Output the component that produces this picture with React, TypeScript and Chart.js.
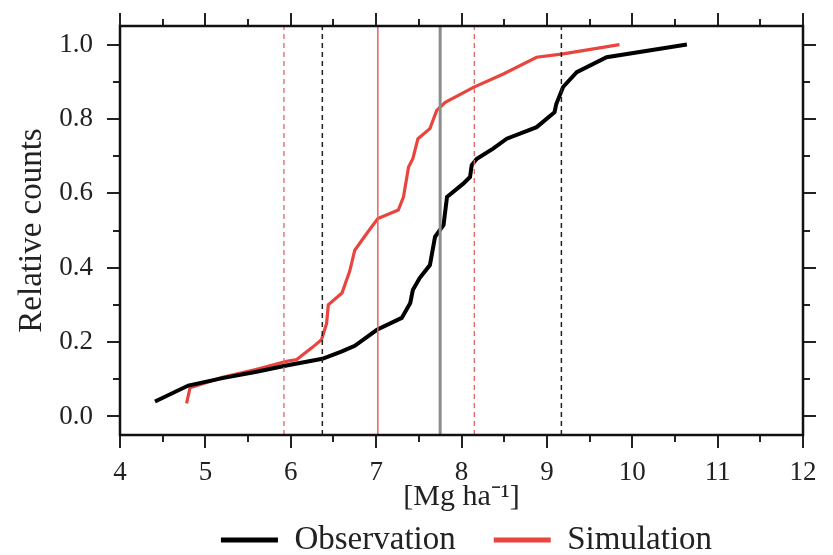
import React, { useEffect, useRef } from 'react';
import { Chart, registerables } from 'chart.js';

Chart.register(...registerables);

// ---- data ----
const obsX = [4.41, 4.8, 5.2, 5.6, 5.95, 6.37, 6.6, 6.75, 7.01, 7.3, 7.4, 7.43, 7.51, 7.63, 7.69, 7.79, 7.83, 8.02, 8.1, 8.12, 8.18, 8.37, 8.53, 8.88, 9.09, 9.11, 9.19, 9.35, 9.7, 10.64];
const obsY = [0.04, 0.083, 0.103, 0.12, 0.137, 0.155, 0.175, 0.19, 0.233, 0.265, 0.305, 0.34, 0.372, 0.407, 0.483, 0.515, 0.59, 0.626, 0.644, 0.676, 0.693, 0.72, 0.747, 0.778, 0.818, 0.84, 0.886, 0.926, 0.966, 1.0];

const simX = [4.78, 4.82, 5.2, 5.6, 5.95, 6.07, 6.25, 6.36, 6.42, 6.44, 6.6, 6.69, 6.75, 6.89, 7.02, 7.26, 7.32, 7.38, 7.43, 7.49, 7.63, 7.71, 7.81, 8.14, 8.49, 8.88, 9.19, 9.85];
const simY = [0.035, 0.077, 0.105, 0.127, 0.148, 0.153, 0.185, 0.206, 0.25, 0.3, 0.332, 0.39, 0.447, 0.492, 0.532, 0.555, 0.59, 0.671, 0.693, 0.747, 0.774, 0.823, 0.845, 0.885, 0.921, 0.966, 0.975, 1.0];

// vertical reference lines (x values)
const simLowerBound = 5.92;
const obsLowerBound = 6.37;
const simMean = 7.02;
const obsMean = 7.75;
const simUpperBound = 8.15;
const obsUpperBound = 9.17;

const seriesNames = ['Observation', 'Simulation'];
const xTickValues = [4, 5, 6, 7, 8, 9, 10, 11, 12];
const xMinorTickValues = [4.5, 5.5, 6.5, 7.5, 8.5, 9.5, 10.5, 11.5];
const yTickValues = [0, 0.2, 0.4, 0.6, 0.8, 1.0];
const yMinorTickValues = [0.1, 0.3, 0.5, 0.7, 0.9];
const xTitle = '[Mg ha\u207B\u00B9]';
const yTitle = 'Relative counts';

const X_MIN = 4;
const X_MAX = 12;
const Y_MIN = -0.05;
const Y_MAX = 1.05;

const FONT = "'Liberation Serif', 'Times New Roman', serif";
const RED = '#e8453f';
const LEGEND_LEFT_OFFSET = 130;

const toPts = (xs: number[], ys: number[]) => xs.map((x, i) => ({ x, y: ys[i] }));
const vline = (x: number) => [{ x, y: Y_MIN }, { x, y: Y_MAX }];

const frameTicks = {
  id: 'frameTicks',
  afterLayout(chart: any) {
    if (chart.legend) {
      chart.legend.left += LEGEND_LEFT_OFFSET;
    }
  },
  afterDatasetsDraw(chart: any) {
    const { ctx, chartArea: a, scales } = chart;
    const xs = scales.x;
    const ys = scales.y;
    const MAJ = 13;
    const MIN = 7;
    ctx.save();
    ctx.strokeStyle = '#222';
    ctx.lineWidth = 2;
    ctx.beginPath();
    const xt = (v: number, len: number) => {
      const p = Math.round(xs.getPixelForValue(v));
      ctx.moveTo(p, a.bottom);
      ctx.lineTo(p, a.bottom + len);
      ctx.moveTo(p, a.top);
      ctx.lineTo(p, a.top - len);
    };
    const yt = (v: number, len: number) => {
      const p = Math.round(ys.getPixelForValue(v));
      ctx.moveTo(a.left, p);
      ctx.lineTo(a.left - len, p);
      ctx.moveTo(a.right, p);
      ctx.lineTo(a.right + len, p);
    };
    xTickValues.forEach((v) => xt(v, MAJ));
    xMinorTickValues.forEach((v) => xt(v, MIN));
    yTickValues.forEach((v) => yt(v, MAJ));
    yMinorTickValues.forEach((v) => yt(v, MIN));
    ctx.stroke();
    ctx.strokeStyle = '#111';
    ctx.lineWidth = 2.5;
    ctx.strokeRect(a.left, a.top, a.right - a.left, a.bottom - a.top);
    ctx.restore();
  },
};

export default function App() {
  const ref = useRef<HTMLCanvasElement | null>(null);

  useEffect(() => {
    if (!ref.current) return;
    const refStyle = (x: number, color: string, width: number, dash: number[]) => ({
      label: 'ref',
      data: vline(x),
      borderColor: color,
      borderWidth: width,
      borderDash: dash,
      showLine: true,
      pointRadius: 0,
      fill: false,
    });
    const chart = new Chart(ref.current, {
      type: 'scatter',
      data: {
        datasets: [
          refStyle(simLowerBound, '#e06565', 1.3, [5, 4]),
          refStyle(obsLowerBound, '#222', 1.5, [5, 4]),
          refStyle(simMean, '#e06565', 1.5, []),
          refStyle(obsMean, '#8c8c8c', 3, []),
          refStyle(simUpperBound, '#e06565', 1.3, [5, 4]),
          refStyle(obsUpperBound, '#222', 1.5, [5, 4]),
          {
            label: seriesNames[0],
            data: toPts(obsX, obsY),
            borderColor: '#000',
            backgroundColor: '#000',
            borderWidth: 4,
            showLine: true,
            pointRadius: 0,
            tension: 0,
          },
          {
            label: seriesNames[1],
            data: toPts(simX, simY),
            borderColor: RED,
            backgroundColor: RED,
            borderWidth: 3.2,
            showLine: true,
            pointRadius: 0,
            tension: 0,
          },
        ],
      },
      options: {
        responsive: false,
        animation: false,
        layout: { padding: { top: 26, right: 30, left: 0, bottom: -11.5 } },
        plugins: {
          tooltip: { enabled: false },
          legend: {
            position: 'bottom',
            labels: {
              filter: (item: any) => item.text !== 'ref',
              generateLabels: (c: any) =>
                Chart.defaults.plugins.legend.labels.generateLabels(c).map((it: any) => ({
                  ...it,
                  lineWidth: 5,
                })),
              usePointStyle: true,
              pointStyle: 'line',
              pointStyleWidth: 57,
              color: '#222',
              padding: 38,
              font: { family: FONT, size: 33 },
            },
          },
        },
        scales: {
          x: {
            type: 'linear',
            min: X_MIN,
            max: X_MAX,
            afterBuildTicks: (s: any) => {
              s.ticks = xTickValues.map((v) => ({ value: v }));
            },
            afterFit: (s: any) => {
              s.height = 50.5;
              s.paddingLeft = 0;
              s.paddingRight = 0;
            },
            grid: { display: false },
            border: { display: false },
            ticks: {
              color: '#222',
              padding: 14,
              maxRotation: 0,
              font: { family: FONT, size: 27 },
              callback: (v: any) => String(v),
            },
            title: {
              display: true,
              text: xTitle,
              color: '#222',
              font: { family: FONT, size: 30 },
              padding: { top: 0, bottom: -29.5 },
            },
          },
          y: {
            type: 'linear',
            min: Y_MIN,
            max: Y_MAX,
            afterBuildTicks: (s: any) => {
              s.ticks = yTickValues.map((v) => ({ value: v }));
            },
            afterFit: (s: any) => {
              s.width = 120;
              s.paddingTop = 0;
              s.paddingBottom = 0;
            },
            grid: { display: false },
            border: { display: false },
            ticks: {
              color: '#222',
              padding: 19,
              font: { family: FONT, size: 27 },
              callback: (v: any) => Number(v).toFixed(1),
            },
            title: {
              display: true,
              text: yTitle,
              color: '#222',
              font: { family: FONT, size: 33 },
              padding: { top: 13, bottom: 0 },
            },
          },
        },
      },
      plugins: [frameTicks],
    } as any);
    return () => chart.destroy();
  }, []);

  return (
    <div style={{ position: 'absolute', left: 0, top: 0, width: 833, height: 555, background: '#fff' }}>
      <canvas ref={ref} width={833} height={555} style={{ display: 'block' }} />
    </div>
  );
}
